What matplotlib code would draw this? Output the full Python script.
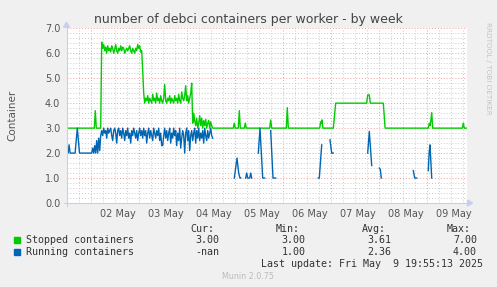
import numpy as np
import matplotlib
matplotlib.use("Agg")
import matplotlib.pyplot as plt
from matplotlib.patches import Rectangle, Polygon

W, H = 497, 287

title = "number of debci containers per worker - by week"
day_labels = ["02 May", "03 May", "04 May", "05 May", "06 May", "07 May", "08 May", "09 May"]
y_ticks = [0, 1, 2, 3, 4, 5, 6, 7]
y_tick_labels = ["0.0", "1.0", "2.0", "3.0", "4.0", "5.0", "6.0", "7.0"]

# time axis: hours since 01 May 00:00
t_start, t_end = 11.9, 211.9
step = 0.5  # rrd week resolution (30 min)

# ---------------- Stopped containers ----------------
stopped_head_t = [11.9, 25.8, 26.3, 26.8, 29.0]
stopped_head_v = [3.0, 3.0, 3.7, 3.0, 3.0]
stopped_busy1_start = 29.5
stopped_busy1 = [6.45, 6.2, 6.35, 6.1, 6.25, 6.0, 6.3, 6.1, 6.2, 6.05,
                 6.3, 6.2, 6.0, 6.15, 6.35, 6.1, 6.0, 6.2, 6.1, 6.3,
                 6.1, 6.25, 6.2, 6.0, 6.1, 6.2, 6.1, 6.2, 6.3, 6.1,
                 6.0, 6.2, 6.1, 6.0, 6.2, 6.1, 6.35, 6.2, 6.3, 6.05, 6.1]
stopped_drop_t = [50.0, 50.5]
stopped_drop_v = [5.3, 4.4]
stopped_busy2_start = 51.0
stopped_busy2 = [4.0, 4.2, 4.1, 4.3, 4.0, 4.2, 4.1, 4.0, 4.35, 4.1,
                 4.2, 4.0, 4.4, 4.1, 4.2, 4.0, 4.3, 4.1, 4.0, 4.2,
                 4.75, 4.1, 4.0, 4.2, 4.1, 4.3, 4.0, 4.2, 4.1, 4.0,
                 4.3, 4.1, 4.2, 4.0, 4.35, 4.1, 4.0, 4.45, 4.2, 4.1,
                 4.3, 4.7, 4.1, 4.3, 4.0, 4.2, 4.4, 4.8]
stopped_busy3_start = 75.0
stopped_busy3 = [3.2, 3.6, 3.3, 3.1, 3.4, 3.0, 3.2, 3.5, 3.1, 3.4,
                 3.0, 3.3, 3.1, 3.35, 3.0, 3.2, 3.3, 3.0, 3.25, 3.1, 3.0]
stopped_tail_t = [95.3, 95.8, 96.3, 97.8, 98.3, 98.8, 100.8, 101.3, 101.8,
                  113.5, 114.0, 114.5, 121.8, 122.3, 122.8,
                  138.5, 139.0, 139.3, 139.6, 140.1, 145.3, 146.5,
                  162.0, 162.5, 163.3, 163.8, 170.3, 171.2,
                  192.8, 193.3, 193.8, 194.5, 195.0, 209.8, 210.3, 210.8, 211.9]
stopped_tail_v = [3.0, 3.2, 3.0, 3.0, 3.7, 3.0, 3.0, 3.2, 3.0,
                  3.0, 3.33, 3.0, 3.0, 3.82, 3.0,
                  3.0, 3.25, 3.2, 3.33, 3.0, 3.0, 4.0,
                  4.0, 4.33, 4.33, 4.0, 4.0, 3.0,
                  3.0, 3.2, 3.1, 3.62, 3.0, 3.0, 3.2, 3.0, 3.0]

# ---------------- Running containers ----------------
running_head_t = [11.9, 12.7, 13.2, 13.7, 16.2, 17.3, 18.4, 24.5]
running_head_v = [2.0, 2.0, 2.33, 2.0, 2.0, 3.0, 2.0, 2.0]
running_busy_start = 25.0
running_busy = [2.2, 2.0, 2.3, 2.0, 2.5, 2.0, 2.6, 2.1, 2.7,
                2.9, 2.7, 3.0, 2.8, 2.9, 2.6, 3.0, 2.8, 2.9, 3.0,
                2.7, 2.5, 2.9, 3.0, 2.8, 2.4, 2.9, 3.0, 2.7, 2.9,
                2.6, 3.0, 2.8, 2.5, 2.9, 2.7, 3.0, 2.6, 2.8, 2.4,
                2.9, 2.7, 3.0, 2.8, 2.6, 2.9, 2.5, 2.8, 3.0, 2.7,
                2.9, 2.6, 3.0, 2.7, 2.9, 2.4, 2.8, 3.0, 2.6, 2.9,
                2.7, 2.5, 3.0, 2.8, 2.6, 2.9, 2.7, 3.0, 2.5, 2.8,
                2.3, 2.3, 2.7, 3.0, 2.6, 2.9, 2.5, 2.8, 3.0, 2.4,
                2.8, 2.6, 3.0, 2.7, 2.9, 2.3, 2.8, 2.5, 3.0, 2.2,
                2.6, 2.9, 2.7, 2.0, 2.8, 3.0, 2.5, 2.9, 2.1, 2.7,
                2.9, 2.5, 2.8, 3.0, 2.4, 2.9, 2.6, 3.0, 2.5, 2.8,
                2.6, 2.9, 2.4, 3.0, 2.7, 2.5, 2.9, 2.6, 2.8, 3.0,
                2.7, 2.6]
running_seg_t = [[95.8, 97.15, 98.0, 98.65, 99.0],
                 [101.5, 102.0, 102.5, 103.5, 104.0, 104.5],
                 [107.8, 108.65, 110.0, 111.0],
                 [114.0, 115.15, 116.5],
                 [137.8, 138.3, 139.5],
                 [143.65, 144.5, 145.3],
                 [162.5, 163.3, 164.5],
                 [168.3, 168.8, 169.3],
                 [185.3, 186.0, 187.0],
                 [192.8, 193.2, 193.65, 194.5]]
running_seg_v = [[1.0, 1.8, 1.2, 1.0, 1.0],
                 [1.0, 1.2, 1.0, 1.0, 1.2, 1.0],
                 [2.0, 3.0, 1.0, 1.0],
                 [2.9, 1.0, 1.0],
                 [1.0, 1.0, 2.33],
                 [2.53, 2.0, 2.0],
                 [2.0, 2.87, 1.5],
                 [1.4, 1.35, 1.0],
                 [1.3, 1.0, 1.0],
                 [1.3, 2.0, 2.33, 1.0]]

legend_names = ["Stopped containers", "Running containers"]
legend_colors = ["#00CC00", "#0066B3"]
cur_vals = ["3.00", "-nan"]
min_vals = ["3.00", "1.00"]
avg_vals = ["3.61", "2.36"]
max_vals = ["7.00", "4.00"]
last_update = "Last update: Fri May  9 19:55:13 2025"

# ---------------- assemble series ----------------
def block(start, vals):
    return list(start + step * np.arange(len(vals))), list(vals)

b1t, b1v = block(stopped_busy1_start, stopped_busy1)
b2t, b2v = block(stopped_busy2_start, stopped_busy2)
b3t, b3v = block(stopped_busy3_start, stopped_busy3)
stopped_t = stopped_head_t + b1t + stopped_drop_t + b2t + b3t + stopped_tail_t
stopped_v = stopped_head_v + b1v + stopped_drop_v + b2v + b3v + stopped_tail_v

rbt, rbv = block(running_busy_start, running_busy)
running_t = running_head_t + rbt
running_v = running_head_v + rbv

# ---------------- figure ----------------
BG = "#F0F0F0"
fig = plt.figure(figsize=(W / 100, H / 100), dpi=100, facecolor=BG)

def fx(px):
    return px / W

def fy(py):
    return 1 - py / H

ax_l, ax_r, ax_t, ax_b = 66.5, 466.5, 28.3, 203.0
ax = fig.add_axes([fx(ax_l), fy(ax_b), (ax_r - ax_l) / W, (ax_b - ax_t) / H])
ax.set_facecolor("white")
ax.set_xlim(t_start, t_end)
ax.set_ylim(0, 7)
for s in ax.spines.values():
    s.set_visible(False)

grid_minor = "#CCCCCC"
grid_major = "#F0A0A0"
dots = (0, (1, 2))
for h in np.arange(12, t_end, 6):
    is_day = abs(h % 24) < 1e-6
    ax.axvline(h, color=grid_major if is_day else grid_minor, lw=0.7, ls=dots, zorder=1)
for v in np.arange(0.2, 7.01, 0.2):
    is_major = abs(v - round(v)) < 1e-6
    ax.axhline(v, color=grid_major if is_major else grid_minor, lw=0.7, ls=dots, zorder=1)

ax.plot(stopped_t, stopped_v, color=legend_colors[0], lw=1.0, zorder=3)
ax.plot(running_t, running_v, color=legend_colors[1], lw=1.0, zorder=4)
for st, sv in zip(running_seg_t, running_seg_v):
    ax.plot(st, sv, color=legend_colors[1], lw=1.0, zorder=4)

ax.set_yticks(y_ticks)
ax.set_yticklabels(y_tick_labels)
ax.set_xticks([37.5 + 24 * i for i in range(len(day_labels))])
ax.set_xticklabels(day_labels)
ax.tick_params(axis="both", length=0, labelsize=7, labelcolor="#555555")
ax.tick_params(axis="y", pad=4.5)
ax.tick_params(axis="x", pad=4.0)

# axis lines with arrows
axis_c = "#C8CDF2"
fig.add_artist(plt.Line2D([fx(ax_l), fx(ax_l)], [fy(ax_b + 3), fy(ax_t - 2)], color=axis_c, lw=0.8))
fig.add_artist(plt.Line2D([fx(ax_l - 3), fx(ax_r + 2)], [fy(ax_b), fy(ax_b)], color=axis_c, lw=0.8))
fig.add_artist(Polygon([[fx(ax_l - 3), fy(ax_t - 1)], [fx(ax_l + 3), fy(ax_t - 1)], [fx(ax_l), fy(ax_t - 6)]],
                       closed=True, color=axis_c, transform=fig.transFigure))
fig.add_artist(Polygon([[fx(ax_r + 1), fy(ax_b - 3)], [fx(ax_r + 1), fy(ax_b + 3)], [fx(ax_r + 6), fy(ax_b)]],
                       closed=True, color=axis_c, transform=fig.transFigure))

fig.text(fx(248.5), fy(19), title, ha="center", va="center", fontsize=9, color="#444444")
fig.text(fx(12), fy(115), "Container", rotation=90, ha="center", va="center", fontsize=7.5, color="#555555")
fig.text(fx(488), fy(22), "RRDTOOL / TOBI OETIKER", rotation=270, ha="center", va="top",
         fontsize=5.2, color="#C4C4C4")

mono = "DejaVu Sans Mono"
fs = 7.2
tc = "#333333"
for txt, x in [("Cur:", 190), ("Min:", 275.7), ("Avg:", 361.7), ("Max:", 446.7)]:
    fig.text(fx(x), fy(228.5), txt, ha="left", va="center", family=mono, fontsize=fs, color=tc)
rows_y = [240, 252]
for i in range(2):
    y = rows_y[i]
    fig.add_artist(Rectangle((fx(14.3), fy(y + 3)), 6 / W, 6 / H, color=legend_colors[i], transform=fig.transFigure))
    fig.text(fx(26.5), fy(y), legend_names[i], ha="left", va="center", family=mono, fontsize=fs, color=tc)
    for vals, xr in [(cur_vals, 219.5), (min_vals, 305.3), (avg_vals, 391.3), (max_vals, 477)]:
        fig.text(fx(xr), fy(y), vals[i], ha="right", va="center", family=mono, fontsize=fs, color=tc)
fig.text(fx(482.7), fy(264), last_update, ha="right", va="center", family=mono, fontsize=fs, color=tc)
fig.text(fx(248), fy(276.7), "Munin 2.0.75", ha="center", va="center", fontsize=5.8, color="#BBBBBB")

fig.savefig("out.png", dpi=100, facecolor=BG)
